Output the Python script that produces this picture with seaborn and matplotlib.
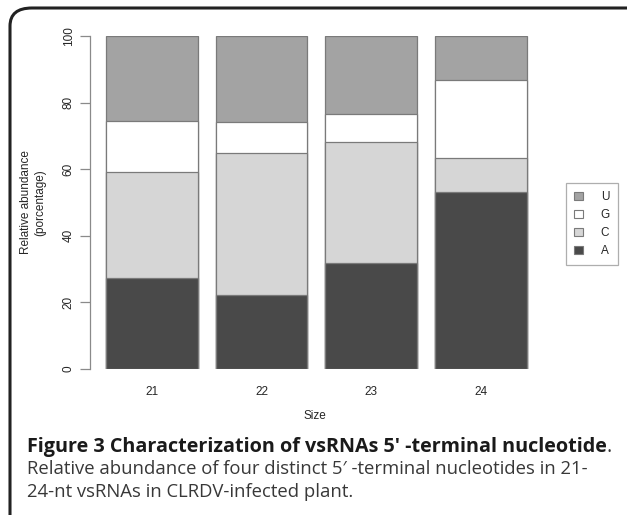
import numpy as np
import pandas as pd
import matplotlib
matplotlib.use("Agg")
import matplotlib.pyplot as plt
import seaborn as sns
from matplotlib.patches import Patch, FancyBboxPatch

sizes = ["21", "22", "23", "24"]
nucleotides = ["A", "C", "G", "U"]
A_vals = [27.3, 22.2, 31.8, 53.3]
C_vals = [31.9, 42.7, 36.4, 10.1]
G_vals = [15.3, 9.3, 8.4, 23.4]
U_vals = [25.5, 25.8, 23.4, 13.2]
colors = {"A": "#494949", "C": "#d6d6d6", "G": "#ffffff", "U": "#a3a3a3"}

df = pd.DataFrame({"size": sizes, "A": A_vals, "C": C_vals, "G": G_vals, "U": U_vals})
long = df.melt(id_vars="size", var_name="nuc", value_name="value")
long["nuc"] = pd.Categorical(long["nuc"], nucleotides, ordered=True)
long = long.sort_values(["size", "nuc"])
long["top"] = long.groupby("size")["value"].cumsum()

sns.set_theme(style="white")
plt.rcParams["font.family"] = ["Liberation Sans", "DejaVu Sans"]

W, H = 627, 515
fig = plt.figure(figsize=(W / 100, H / 100), dpi=100)
fig.patch.set_facecolor("white")

left, right, top_px, bot_px = 90, 540, 36, 369
ax = fig.add_axes([left / W, (H - bot_px) / H, (right - left) / W, (bot_px - top_px) / H])

for nuc in reversed(nucleotides):
    sub = long[long["nuc"] == nuc]
    sns.barplot(data=sub, x="size", y="top", order=sizes, color=colors[nuc],
                width=0.84, edgecolor="#7a7a7a", linewidth=0.9, saturation=1,
                ax=ax, errorbar=None)

ax.set_xlim(-0.566, 3.543)
ax.set_ylim(0, 100)
for s in ["top", "right", "bottom"]:
    ax.spines[s].set_visible(False)
ax.spines["left"].set_color("#8a8a8a")
ax.spines["left"].set_linewidth(0.9)
ax.set_yticks([0, 20, 40, 60, 80, 100])
ax.tick_params(axis="y", direction="out", length=7, width=0.9, color="#8a8a8a",
               labelsize=8.5, pad=4, labelrotation=90, left=True)
for lab in ax.get_yticklabels():
    lab.set_verticalalignment("center")
ax.tick_params(axis="x", length=0, labelsize=8.5, pad=12)
ax.set_xlabel("Size", fontsize=8.5, labelpad=9)
ax.set_ylabel("Relative abundance\n(porcentage)", fontsize=8.5, labelpad=12)

handles = [Patch(facecolor=colors[n], edgecolor="#7a7a7a", linewidth=0.8, label=n)
           for n in ["U", "G", "C", "A"]]
leg = fig.legend(handles=handles, loc="upper left",
                 bbox_to_anchor=(566 / W, (H - 183) / H), frameon=True,
                 fontsize=8.5, handlelength=0.75, handleheight=0.75,
                 handletextpad=1.5, labelspacing=0.5, borderpad=0.7,
                 borderaxespad=0, fancybox=False)
leg.get_frame().set_edgecolor("#9a9a9a")
leg.get_frame().set_linewidth(0.9)
fig.canvas.draw()
r = fig.canvas.get_renderer()
lb = leg.get_window_extent(r)
leg.get_frame().set_width(leg.get_frame().get_width() + 5)

# caption
cap_font = ["Open Sans", "DejaVu Sans"]
x0 = 27
t1 = fig.text(x0 / W, 1 - 452 / H, "Figure 3 Characterization of vsRNAs 5\u2032 -terminal nucleotide",
              fontsize=14.2, fontweight="bold", family=cap_font, color="#1a1a1a", va="baseline")
fig.canvas.draw()
bb = t1.get_window_extent(r)
fig.text(bb.x1 / W, 1 - 452 / H, ".", fontsize=14.2, family=cap_font, color="#333333", va="baseline")

fig.text(x0 / W, 1 - 474 / H, "Relative abundance of four distinct 5\u2032 -terminal nucleotides in 21-",
         fontsize=13.3, family=cap_font, color="#383838", va="baseline")
fig.text(x0 / W, 1 - 497 / H, "24-nt vsRNAs in CLRDV-infected plant.",
         fontsize=13.3, family=cap_font, color="#383838", va="baseline")

# rounded frame
frame = FancyBboxPatch((10 / W, -0.1), (W + 40) / W, 1.1 - 8 / H,
                       boxstyle="round,pad=0,rounding_size=0.035",
                       transform=fig.transFigure, fill=False,
                       edgecolor="#222222", linewidth=2.2, clip_on=False)
fig.patches.append(frame)

fig.savefig("out.png", dpi=100)
